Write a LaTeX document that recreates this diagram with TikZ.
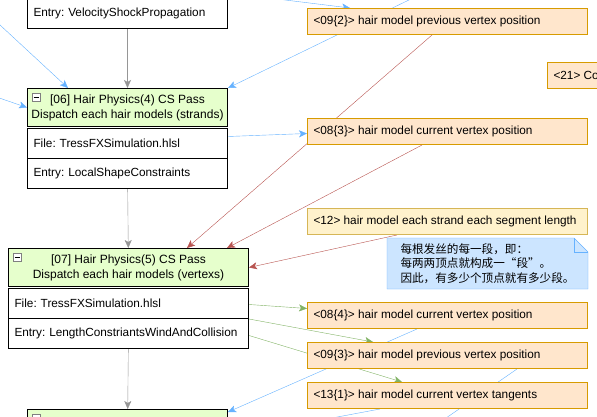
\documentclass[tikz,border=0pt]{standalone}
\usepackage{fontspec}
\setmainfont{Liberation Sans}
\newfontfamily\cjk{Noto Sans CJK SC}
\usetikzlibrary{arrows.meta,backgrounds}
\definecolor{passfill}{RGB}{230,255,204}
\definecolor{buffill}{RGB}{255,230,204}
\definecolor{bufline}{RGB}{215,155,0}
\definecolor{lenfill}{RGB}{255,242,204}
\definecolor{lenline}{RGB}{214,182,86}
\definecolor{notefill}{RGB}{204,229,255}
\definecolor{noteline}{RGB}{102,178,255}
\definecolor{bluelink}{RGB}{102,178,255}
\definecolor{redlink}{RGB}{184,84,80}
\definecolor{greenlink}{RGB}{130,179,102}
\definecolor{flowlink}{RGB}{150,150,150}
\frenchspacing
\newcommand{\buflabel}[1]{\makebox[268pt][l]{#1}}

\begin{document}
\begin{tikzpicture}[x=1pt,y=-1pt,>={Stealth[length=8pt,width=7pt,inset=2pt]},
                    line width=1pt,font=\fontsize{11.8}{14}\selectfont,
                    pass node/.style={draw,fill=passfill,anchor=north west,minimum height=38pt,
                      align=center,inner sep=0pt,font=\fontsize{12}{15}\selectfont,
                      execute at begin node={\rule{0pt}{14pt}}},
                    row node/.style={draw,fill=white,anchor=north west,minimum height=30pt,
                      align=left,inner xsep=6pt,inner ysep=0pt},
                    buf node/.style={draw=bufline,fill=buffill,anchor=north west,minimum height=26pt,
                      inner xsep=6pt,inner ysep=0pt},
                    len node/.style={buf node,draw=lenline,fill=lenfill},
                    fold node/.style={draw=gray,fill=white,minimum size=8pt,inner sep=0pt,line width=0.6pt,
                      path picture={\draw[black,line width=0.8pt] ([xshift=1.5pt]path picture bounding box.west)
                        -- ([xshift=-1.5pt]path picture bounding box.east);}},
                    blue edge/.style={bluelink,->},
                    red edge/.style={redlink,->},
                    green edge/.style={greenlink,->},
                    flow edge/.style={flowlink,->}]
\useasboundingbox (0,0) rectangle (597,417);
\clip (0,0) rectangle (597,417);

\node[row node,text width=188pt] (velo) at (27,-2) {Entry: VelocityShockPropagation};
\node[pass node,minimum width=200pt] (p06) at (27,88) {[06] Hair Physics(4) CS Pass\\Dispatch each hair models (strands)};
\node[row node,text width=188pt] (p06file) at (27,128) {File: TressFXSimulation.hlsl};
\node[row node,text width=188pt] (p06entry) at (27,158) {Entry: LocalShapeConstraints};
\node[pass node,minimum width=240pt] (p07) at (8,248) {[07] Hair Physics(5) CS Pass\\Dispatch each hair models (vertexs)};
\node[row node,text width=228pt] (p07file) at (8,288) {File: TressFXSimulation.hlsl};
\node[row node,text width=228pt] (p07entry) at (8,318) {Entry: LengthConstriantsWindAndCollision};
\node[pass node,minimum width=200pt] (p08) at (27,409) {};

\node[fold node] (p06fold) at ([shift={(9,9)}]p06.north west) {};
\node[fold node] (p07fold) at ([shift={(9,9)}]p07.north west) {};
\node[fold node] (p08fold) at ([shift={(9,9)}]p08.north west) {};

\node[buf node] (b092) at (307,8) {\buflabel{\textless09\{2\}\textgreater{} hair model previous vertex position}};
\node[buf node] (b21) at (547,62) {\buflabel{\textless21\textgreater{} Co}};
\node[buf node] (b083) at (307,118) {\buflabel{\textless08\{3\}\textgreater{} hair model current vertex position}};
\node[len node] (b12) at (307,208) {\buflabel{\textless12\textgreater{} hair model each strand each segment length}};
\node[anchor=north west,minimum width=200pt,minimum height=50pt,inner sep=0pt,align=left,
      font=\cjk\fontsize{11.6}{14.5}\selectfont] (segnote) at (387,238)
      {每根发丝的每一段，即：\\每两两顶点就构成一“段”。\\因此，有多少个顶点就有多少段。};
\node[buf node] (b084) at (307,302) {\buflabel{\textless08\{4\}\textgreater{} hair model current vertex position}};
\node[buf node] (b093) at (307,342) {\buflabel{\textless09\{3\}\textgreater{} hair model previous vertex position}};
\node[buf node] (b131) at (307,382) {\buflabel{\textless13\{1\}\textgreater{} hair model current vertex tangents}};

\coordinate (inA) at (-27,0);
\coordinate (inB) at (-30,88);
\coordinate (inC) at (200,-10.5);
\coordinate (inD) at (450,-20);
\coordinate (outG) at (420,436);
\coordinate (outH) at (300,424);

\begin{scope}[on background layer]
\clip (0,0) rectangle (597,417);
\path[flow edge]
  (velo) edge (p06)
  (p06entry) edge (p07)
  (p07entry) edge (p08);

\path[blue edge]
  (inA) edge ([xshift=41pt]p06.north west)
  (inB) edge (p06.west)
  (inC) edge ([xshift=43pt]b092.north west)
  (inD) edge (p06.north east)
  ([yshift=7pt]p06file.east) edge ([yshift=-2pt]b083.west)
  ([xshift=110pt]b084.south west) edge ([yshift=-3pt]p08.north east)
  ([xshift=210pt]b093.south west) edge (outG)
  ([xshift=73pt]b131.south west) edge (outH);

\path[red edge]
  ([xshift=125pt]b092.south west) edge ([xshift=179pt]p07.north west)
  ([xshift=115pt]b083.south west) edge ([xshift=219pt]p07.north west)
  ([xshift=90pt]b12.south west) edge (p07.east);

\path[green edge]
  ([yshift=-1pt]p07file.east) edge ([yshift=7pt]b084.west)
  (p07file.south east) edge ([xshift=66pt]b093.north west)
  ([yshift=-2pt]p07entry.east) edge ([xshift=95pt]b131.north west);

\filldraw[draw=noteline,fill=notefill] (segnote.north west) -- ([xshift=-14pt]segnote.north east)
  -- ([yshift=-14pt]segnote.north east) -- (segnote.south east) -- (segnote.south west) -- cycle;
\draw[noteline] ([xshift=-14pt]segnote.north east) |- ([yshift=-14pt]segnote.north east);
\end{scope}
\end{tikzpicture}
\end{document}
